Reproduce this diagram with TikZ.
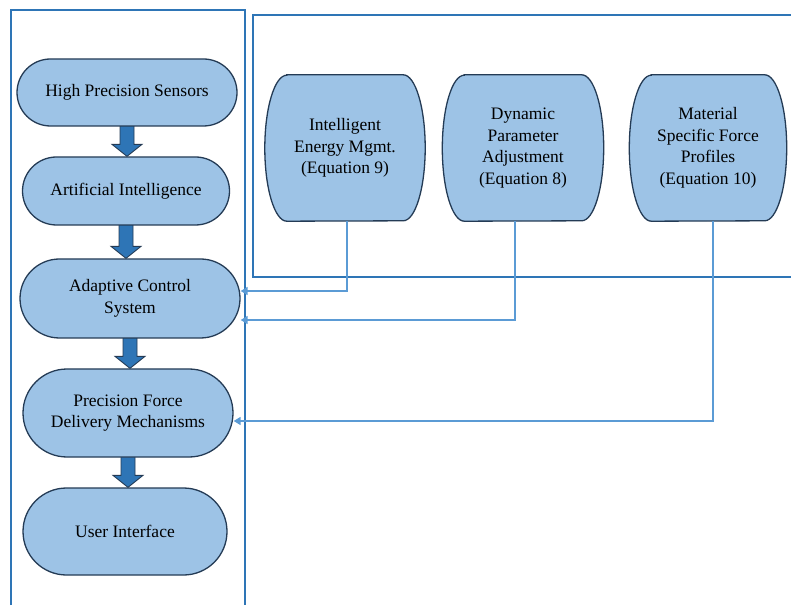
\documentclass[tikz,border=0pt]{standalone}
\usepackage{fontspec}
\setmainfont{Liberation Serif}
\usepackage{tikz}
\usetikzlibrary{shapes.misc}
\usetikzlibrary{arrows.meta}
\usetikzlibrary{backgrounds}

\definecolor{boxblue}{HTML}{2E75B6}
\definecolor{pillfill}{HTML}{9DC3E6}
\definecolor{pilledge}{HTML}{243B55}
\definecolor{feedblue}{HTML}{5B9BD5}

\tikzset{
pill/.style={rounded rectangle,draw=pilledge,line width=1.3pt,fill=pillfill,align=center,inner sep=0pt},
sidebox/.style={draw=none,align=center,minimum width=160pt,minimum height=146pt,inner sep=0pt},
sideedge/.style={draw=pilledge,line width=1.3pt,fill=pillfill},
frame/.style={draw=boxblue,line width=1.8pt},
blockarrow/.style={draw=pilledge,line width=0.9pt,fill=boxblue},
feed/.style={draw=feedblue,line width=1.5pt,-{Triangle[width=8pt,length=7pt]}}
}

\begin{document}
\begin{tikzpicture}[x=1pt,y=1pt,font=\fontsize{17.5}{21.5}\selectfont]
\useasboundingbox (0,0) rectangle (791,605);
\draw[frame] (11,0) -- (11,595) -- (245,595) -- (245,0);
\draw[frame] (791,590) -- (253,590) -- (253,328) -- (791,328);

\node[pill,minimum width=220pt,minimum height=67pt] (hps) at (127,512.5) {High Precision Sensors};
\node[pill,minimum width=207pt,minimum height=68pt] (ai) at (126,414) {Artificial Intelligence};
\node[pill,minimum width=220pt,minimum height=79pt] (acs) at (130,306.5) {Adaptive Control\\System};
\node[pill,minimum width=210pt,minimum height=88pt] (pfdm) at (128,192) {Precision Force\\Delivery Mechanisms};
\node[pill,minimum width=204pt,minimum height=87pt] (ui) at (125,73.5) {User Interface};

\node[sidebox] (energy) at (345,457) {Intelligent\\Energy Mgmt.\\(Equation 9)};
\node[sidebox,minimum width=161pt] (param) at (523,457) {Dynamic\\Parameter\\Adjustment\\(Equation 8)};
\node[sidebox,minimum width=157pt] (force) at (708,457) {Material\\Specific Force\\Profiles\\(Equation 10)};

\begin{scope}[on background layer]
\foreach \n in {energy,param,force}
  \draw[sideedge] ([xshift=22pt]\n.north west) -- ([xshift=-22pt]\n.north east)
    arc[start angle=90,end angle=-90,x radius=22pt,y radius=73pt]
    -- ([xshift=22pt]\n.south west)
    arc[start angle=270,end angle=90,x radius=22pt,y radius=73pt] -- cycle;
\foreach \a/\b in {hps/ai,ai/acs,acs/pfdm,pfdm/ui}{
  \coordinate (s) at ([yshift=3pt]\a.south);
  \coordinate (t) at (\a.south |- \b.north);
  \draw[blockarrow] ([xshift=-7pt]s) -- ([shift={(-7pt,12pt)}]t) -- ([shift={(-15pt,12pt)}]t) -- (t)
    -- ([shift={(15pt,12pt)}]t) -- ([shift={(7pt,12pt)}]t) -- ([xshift=7pt]s) -- cycle;
}
\end{scope}

\draw[feed] ([xshift=2pt]energy.south) |- ([yshift=7.5pt]acs.east);
\draw[feed] ([xshift=-8pt]param.south) |- ([yshift=-21.5pt]acs.east);
\draw[feed] ([xshift=5pt]force.south) |- ([yshift=-8pt]pfdm.east);

\end{tikzpicture}
\end{document}
